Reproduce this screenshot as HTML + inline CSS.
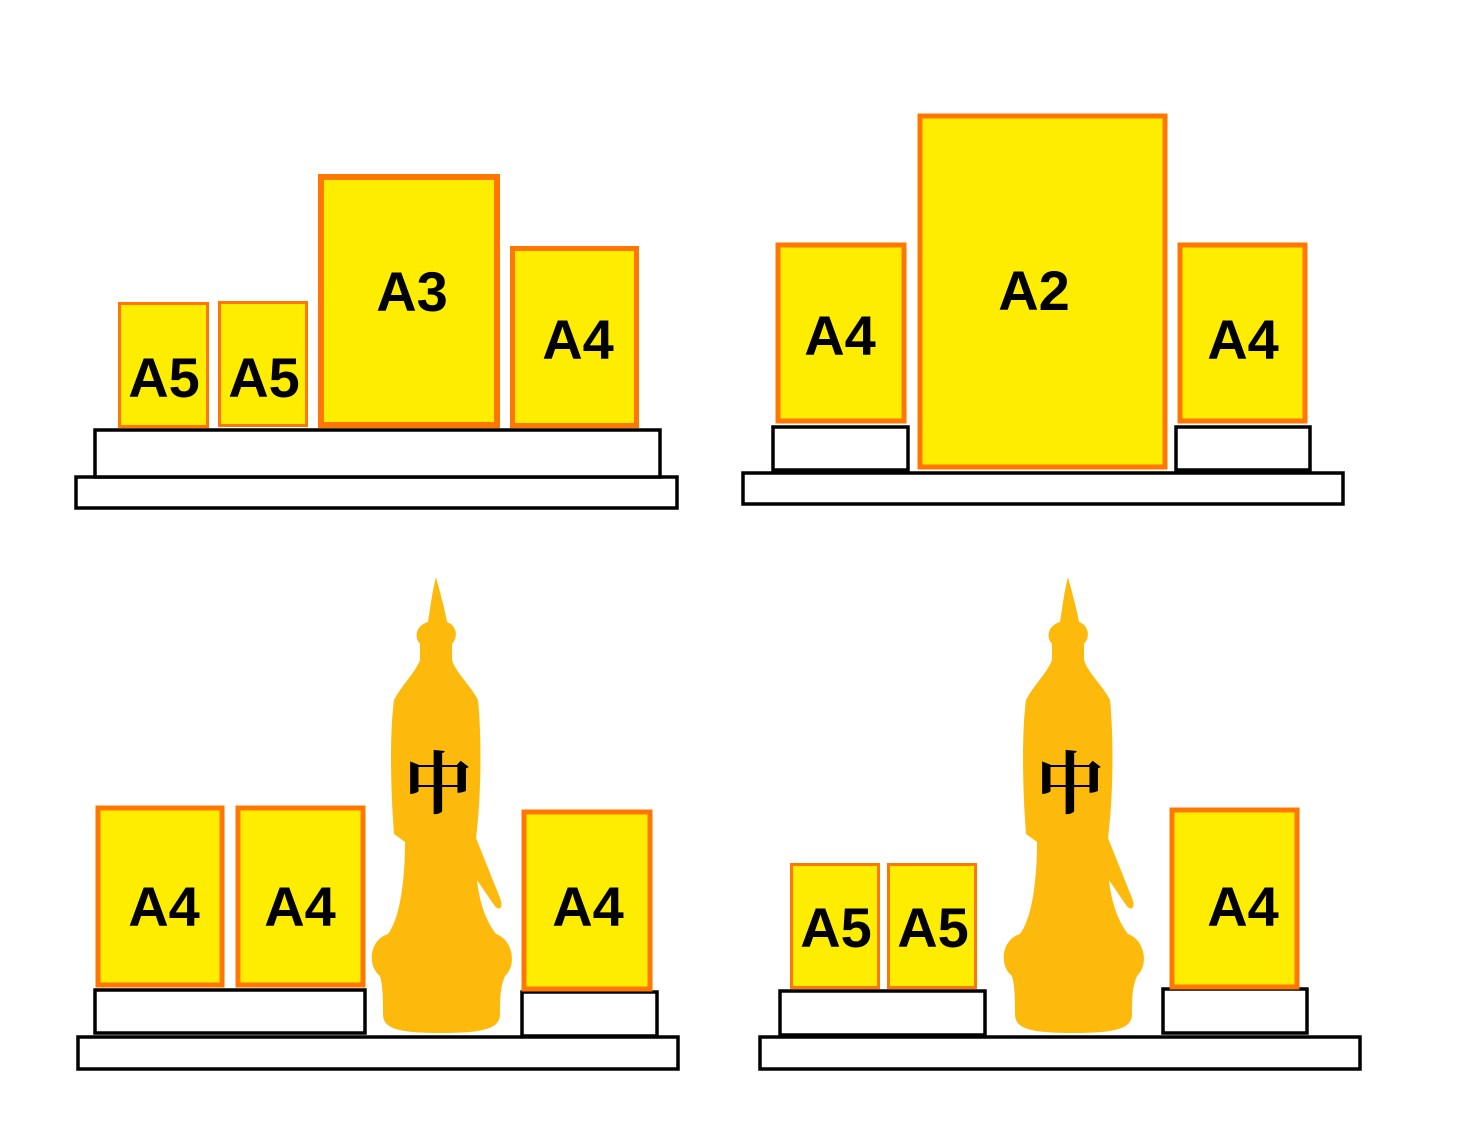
<!DOCTYPE html>
<html><head><meta charset="utf-8"><style>
html,body{margin:0;padding:0;background:#fff;}
svg{display:block;}
.p{fill:#FFED00;stroke:#FF7700;}
.b{fill:#fff;stroke:#000;stroke-width:3.5;}
.t{font-family:"Liberation Sans",Arial,sans-serif;font-weight:bold;font-size:56px;fill:#000;text-anchor:middle;}
.c{font-family:"Noto Serif CJK SC","Noto Sans CJK SC",serif;font-weight:bold;font-size:68px;fill:#000;text-anchor:middle;}
.s{fill:#FDBA0D;}
</style></head><body>
<svg width="1458" height="1146" viewBox="0 0 1458 1146" xmlns="http://www.w3.org/2000/svg">
<defs>
<path id="statue" d="M436,577 C440,592 445,610 447,622 C456,625 459,636 452,644 L452,660 C456,673 471,686 478,700 C482,740 481,800 476,838 L500,898 C504,908 499,912 494,905 L477,880 C479,900 485,920 496,934 C513,940 517,965 505,976 C500,987 500,1000 500,1014 C500,1028 486,1033 441,1033 C396,1033 383,1028 383,1014 C383,1000 383,987 380,976 C367,966 369,940 388,934 C400,918 405,880 405,842 L394,834 C390,780 390,730 394,700 C401,686 415,673 420,660 L420,644 C413,636 417,625 428,622 C430,610 432,592 436,577 Z"/>
</defs>

<!-- Panel 1 -->
<rect class="b" x="76" y="477" width="601" height="31"/>
<rect class="b" x="95" y="430" width="565" height="47"/>
<rect class="p" x="119.5" y="303.5" width="88" height="123" stroke-width="3"/>
<rect class="p" x="219.5" y="302.5" width="87" height="123" stroke-width="3"/>
<rect class="p" x="321" y="177" width="176" height="248" stroke-width="6"/>
<rect class="p" x="512.5" y="248.5" width="124" height="177" stroke-width="5"/>
<text class="t" x="164" y="397">A5</text>
<text class="t" x="264" y="397">A5</text>
<text class="t" x="412" y="311">A3</text>
<text class="t" x="578" y="359">A4</text>

<!-- Panel 2 -->
<rect class="b" x="743" y="473" width="600" height="31"/>
<rect class="b" x="773" y="427" width="135" height="43"/>
<rect class="b" x="1176" y="427" width="134" height="43"/>
<rect class="p" x="778" y="245" width="126" height="176" stroke-width="5"/>
<rect class="p" x="920" y="116" width="245" height="351" stroke-width="5"/>
<rect class="p" x="1180" y="245" width="125" height="176" stroke-width="5"/>
<text class="t" x="840" y="355">A4</text>
<text class="t" x="1034" y="310">A2</text>
<text class="t" x="1243" y="359">A4</text>

<!-- Panel 3 -->
<rect class="b" x="78" y="1037" width="600" height="32"/>
<rect class="b" x="95" y="990" width="270" height="43"/>
<rect class="b" x="522" y="992" width="135" height="44"/>
<rect class="p" x="98" y="808" width="124" height="177" stroke-width="5"/>
<rect class="p" x="238" y="808" width="125" height="177" stroke-width="5"/>
<rect class="p" x="524" y="812" width="126" height="177" stroke-width="5"/>
<text class="t" x="164" y="926">A4</text>
<text class="t" x="300" y="926">A4</text>
<text class="t" x="588" y="926">A4</text>
<use href="#statue" class="s"/>
<text class="c" x="438" y="808">中</text>

<!-- Panel 4 -->
<rect class="b" x="760" y="1037" width="600" height="32"/>
<rect class="b" x="780" y="991" width="205" height="44"/>
<rect class="b" x="1163" y="989" width="144" height="44"/>
<rect class="p" x="791.5" y="864.5" width="87" height="123" stroke-width="3"/>
<rect class="p" x="888.5" y="864.5" width="87" height="123" stroke-width="3"/>
<rect class="p" x="1172" y="810" width="125" height="177" stroke-width="5"/>
<text class="t" x="836" y="947">A5</text>
<text class="t" x="933" y="947">A5</text>
<text class="t" x="1243" y="926">A4</text>
<use href="#statue" class="s" transform="translate(632,0)"/>
<text class="c" x="1070" y="808">中</text>
</svg>
</body></html>
